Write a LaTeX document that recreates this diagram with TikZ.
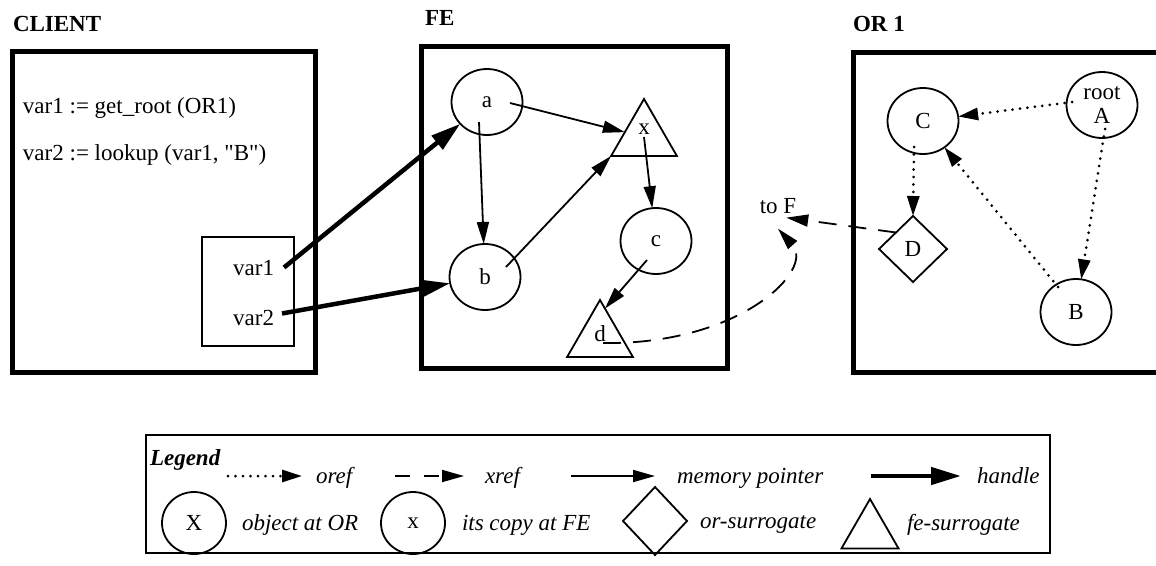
\documentclass[tikz,border=0pt]{standalone}
\usepackage{fontspec}
\setmainfont{Liberation Serif}[Ligatures=TeXOff]
\usetikzlibrary{arrows.meta,shapes.geometric,calc}
\newcommand\fsz{\fontsize{23}{24}\selectfont}
\begin{document}
\begin{tikzpicture}[x=1pt,y=-1pt,
  every node/.style={font=\fsz, inner sep=0pt, outer sep=0pt},
  obj/.style={ellipse, draw, line width=1.8pt, minimum width=71pt, minimum height=66pt},
  tri/.style={regular polygon, regular polygon sides=3, draw, line width=1.8pt, minimum size=76pt},
  dia/.style={diamond, draw, line width=1.8pt, minimum width=68pt, minimum height=66pt},
  frame/.style={line width=5pt},
  title/.style={font=\fsz\bfseries, anchor=base west},
  txt/.style={anchor=base west},
  leg/.style={font=\fsz\itshape, anchor=base west},
  mem/.style={line width=1.8pt, -{Triangle[length=22pt,width=12pt]}},
  handle/.style={line width=4.5pt, -{Triangle[length=30pt,width=17pt]}},
  oref/.style={line width=3pt, line cap=round, dash pattern=on 0pt off 7.5pt, -{Triangle[length=20pt,width=12pt]}},
  xref/.style={line width=1.8pt, dash pattern=on 18pt off 12pt, -{Triangle[length=22pt,width=12pt]}},
]
\useasboundingbox (0,0) rectangle (1156,565);

% titles
\node[title] (client) at (13,31) {CLIENT};
\node[title] (fe) at (425,25) {FE};
\node[title] (or) at (853,31) {OR 1};

% frames
\node[draw, frame, anchor=north west, minimum width=303pt, minimum height=321pt] (clientbox) at (12,51) {};
\node[draw, frame, anchor=north west, minimum width=306pt, minimum height=322pt] (febox) at (421,46) {};
\draw[frame] (1162,52) -- (853,52) -- (853,372) -- (1162,372);

% client contents
\node[txt] (l1) at (23,113) {var1 := get\_root (OR1)};
\node[txt] (l2) at (23,160) {var2 := lookup (var1, "B")};
\node[draw, line width=1.8pt, anchor=north west, minimum width=92pt, minimum height=109pt] (vars) at (202,237) {};
\node[anchor=base east] (v1) at (274,275) {var1};
\node[anchor=base east] (v2) at (274,325) {var2};

% FE contents
\node[obj] (a) at (487,102) {a};
\node[obj] (b) at (485,277) {b};
\node[obj] (c) at (656,241) {c};
\node[tri, label={[yshift=8pt]center:x}] (x) at (644,137) {};
\node[tri, label={[yshift=4pt]center:d}] (d) at (600,338) {};

% OR contents
\node[obj] (C) at (923,121) {C};
\node[obj, align=center] (A) at (1102,105) {root\\A};
\node[dia] (D) at (913,249) {D};
\node[obj] (B) at (1076,312) {B};
\node (toF) at (778,206) {to F};

% memory pointers
\draw[mem] ($(a)+(23,1)$) -- (x);
\draw[mem] ($(a)+(-8,20)$) -- (b);
\draw[mem] ($(b)+(21,-10)$) -- (x.corner 2);
\draw[mem] (x.center) -- (c);
\draw[mem] ($(c)+(-9,19)$) -- ($(d.corner 1)!0.15!(d.corner 3)$);

% handles
\draw[handle] ($(v1.east)+(10,0)$) -- (a);
\draw[handle] ($(v2.east)+(8,-4)$) -- (b);

% orefs
\draw[oref] ($(A)+(-30,-3)$) -- (C);
\draw[oref] ($(C)+(-9,26)$) -- (D.north);
\draw[oref] ($(A)+(3,24)$) -- (B);
\draw[oref] ($(B)+(-18,-25)$) -- (C);

% xrefs
\draw[xref] (D.north west) -- ($(toF.south east)+(-10,4)$);
\draw[xref] ($(d)+(3,5)$) .. controls (740,345) and (815,270) .. ($(toF.south)+(0,15)$);

% legend
\node[draw, line width=1.8pt, anchor=north west, minimum width=904pt, minimum height=118pt] (legbox) at (146,435) {};
\node[font=\fsz\bfseries\itshape, anchor=base west] (legt) at (150,465) {Legend};
\coordinate (o1) at (228,476); \coordinate (o2) at (302,476);
\draw[oref] (o1) -- (o2);
\node[leg] (lo) at (316,483) {oref};
\coordinate (x1) at (395,476); \coordinate (x2) at (464,476);
\draw[xref, dash pattern=on 15pt off 14pt] (x1) -- (x2);
\node[leg] (lx) at (485,483) {xref};
\coordinate (m1) at (571,476); \coordinate (m2) at (655,476);
\draw[mem] (m1) -- (m2);
\node[leg] (lm) at (677,483) {memory pointer};
\coordinate (h1) at (871,476); \coordinate (h2) at (961,476);
\draw[handle] (h1) -- (h2);
\node[leg] (lh) at (977,483) {handle};

\node[obj, minimum width=64pt, minimum height=62pt] (LX) at (194,523) {X};
\node[leg] (lX) at (242,530) {object at OR};
\node[obj, minimum width=64pt, minimum height=62pt] (Lx) at (413,523) {x};
\node[leg] (lxx) at (462,530) {its copy at FE};
\node[dia, minimum width=64pt, minimum height=68pt] (LD) at (655,521) {};
\node[leg] (lD) at (700,528) {or-surrogate};
\node[tri, minimum size=66pt] (LT) at (870,532) {};
\node[leg] (lT) at (907,530) {fe-surrogate};
\end{tikzpicture}
\end{document}
